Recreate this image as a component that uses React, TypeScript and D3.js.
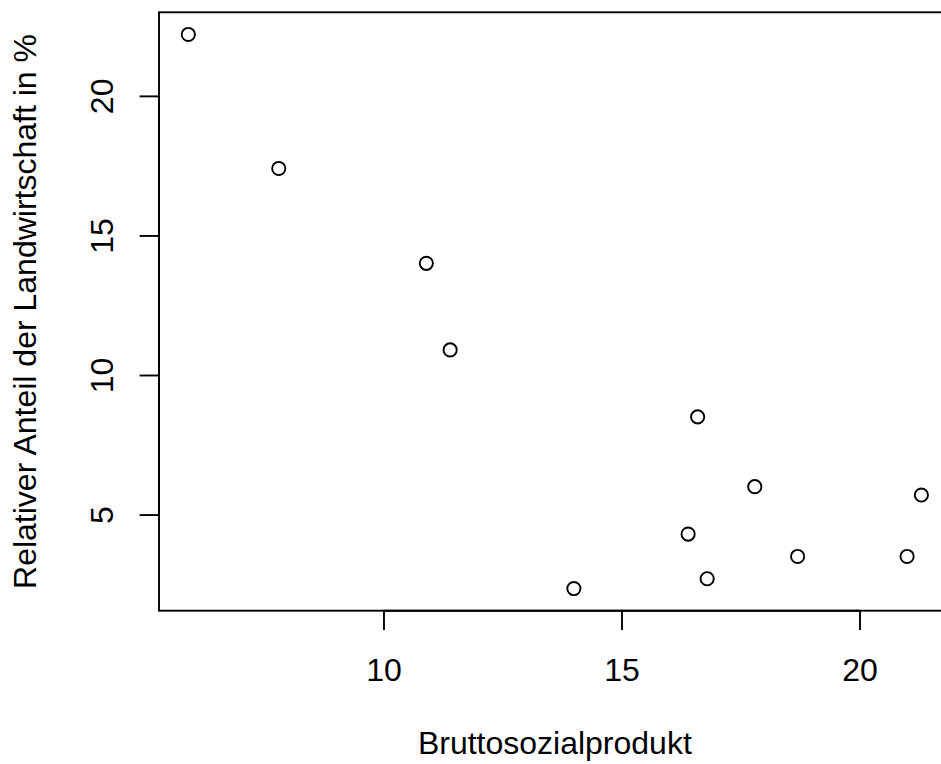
import React, { useEffect, useRef } from 'react'
import * as d3 from 'd3'

// Bruttosozialprodukt vs. Anteil der Landwirtschaft, 12 Länder
const bsp = [5.9, 7.8, 10.9, 11.4, 16.6, 17.8, 16.4, 16.8, 14.0, 18.7, 21.0, 21.3]
const landwirtschaft = [22.2, 17.4, 14.0, 10.9, 8.5, 6.0, 4.3, 2.7, 2.35, 3.5, 3.5, 5.7]
const xTicks = [10, 15, 20]
const yTicks = [5, 10, 15, 20]
const xLabel = 'Bruttosozialprodukt'
const yLabel = 'Relativer Anteil der Landwirtschaft in %'

// R style axis range: data range padded by 4% on each side
const ext = (v: number[]) => {
  const [lo, hi] = d3.extent(v) as [number, number]
  const pad = (hi - lo) * 0.04
  return [lo - pad, hi + pad]
}

const W = 941
const H = 764
const FONT = '"Liberation Sans", Arial, Helvetica, sans-serif'

const ScatterPlot = () => {
  const ref = useRef<SVGSVGElement>(null)

  useEffect(() => {
    const left = 159
    const right = 950.7
    const top = 12.3
    const bottom = 610.7
    const tick = 19.4
    const lw = 1.9

    const x = d3.scaleLinear().domain(ext(bsp)).range([left, right])
    const y = d3.scaleLinear().domain(ext(landwirtschaft)).range([bottom, top])

    const svg = d3.select(ref.current)
    svg.selectAll('*').remove()

    // x axis
    const gx = svg
      .append('g')
      .attr('transform', `translate(0, ${bottom})`)
      .call(d3.axisBottom(x).tickValues(xTicks).tickSize(tick).tickFormat(d3.format('d')))
    gx.select('.domain').remove()
    gx.selectAll('line').attr('stroke', '#000').attr('stroke-width', lw)
    gx.selectAll('text')
      .attr('y', 70.5)
      .attr('dy', null)
      .attr('fill', '#000')
      .style('font-family', FONT)
      .style('font-size', '32px')
    gx.append('line')
      .attr('x1', x(xTicks[0]))
      .attr('x2', x(xTicks[xTicks.length - 1]))
      .attr('stroke', '#000')
      .attr('stroke-width', lw)

    // y axis
    const gy = svg
      .append('g')
      .attr('transform', `translate(${left}, 0)`)
      .call(d3.axisLeft(y).tickValues(yTicks).tickSize(tick).tickFormat(d3.format('d')))
    gy.select('.domain').remove()
    gy.selectAll('line').attr('stroke', '#000').attr('stroke-width', lw)
    gy.selectAll('text')
      .attr('x', null)
      .attr('dy', null)
      .attr('text-anchor', 'middle')
      .attr('transform', `translate(${113 - left}, 0) rotate(-90)`)
      .attr('fill', '#000')
      .style('font-family', FONT)
      .style('font-size', '32px')
    gy.append('line')
      .attr('y1', y(yTicks[0]))
      .attr('y2', y(yTicks[yTicks.length - 1]))
      .attr('stroke', '#000')
      .attr('stroke-width', lw)

    // box
    svg
      .append('rect')
      .attr('x', left)
      .attr('y', top)
      .attr('width', right - left)
      .attr('height', bottom - top)
      .attr('fill', 'none')
      .attr('stroke', '#000')
      .attr('stroke-width', lw)

    // points
    svg
      .append('g')
      .selectAll('circle')
      .data(bsp.map((b, i) => [b, landwirtschaft[i]]))
      .enter()
      .append('circle')
      .attr('cx', d => x(d[0]))
      .attr('cy', d => y(d[1]))
      .attr('r', 6.6)
      .attr('fill', 'none')
      .attr('stroke', '#000')
      .attr('stroke-width', lw)

    // axis titles
    svg
      .append('text')
      .attr('x', (left + right) / 2)
      .attr('y', 753.5)
      .attr('text-anchor', 'middle')
      .style('font-family', FONT)
      .style('font-size', '32px')
      .text(xLabel)

    svg
      .append('text')
      .attr('transform', `translate(36, ${(top + bottom) / 2}) rotate(-90)`)
      .attr('text-anchor', 'middle')
      .style('font-family', FONT)
      .style('font-size', '32px')
      .text(yLabel)
  }, [])

  return (
    <svg
      ref={ref}
      width={W}
      height={H}
      style={{ position: 'absolute', left: 0, top: 0, background: '#fff' }}
    ></svg>
  )
}

export default function App() {
  return <ScatterPlot />
}
